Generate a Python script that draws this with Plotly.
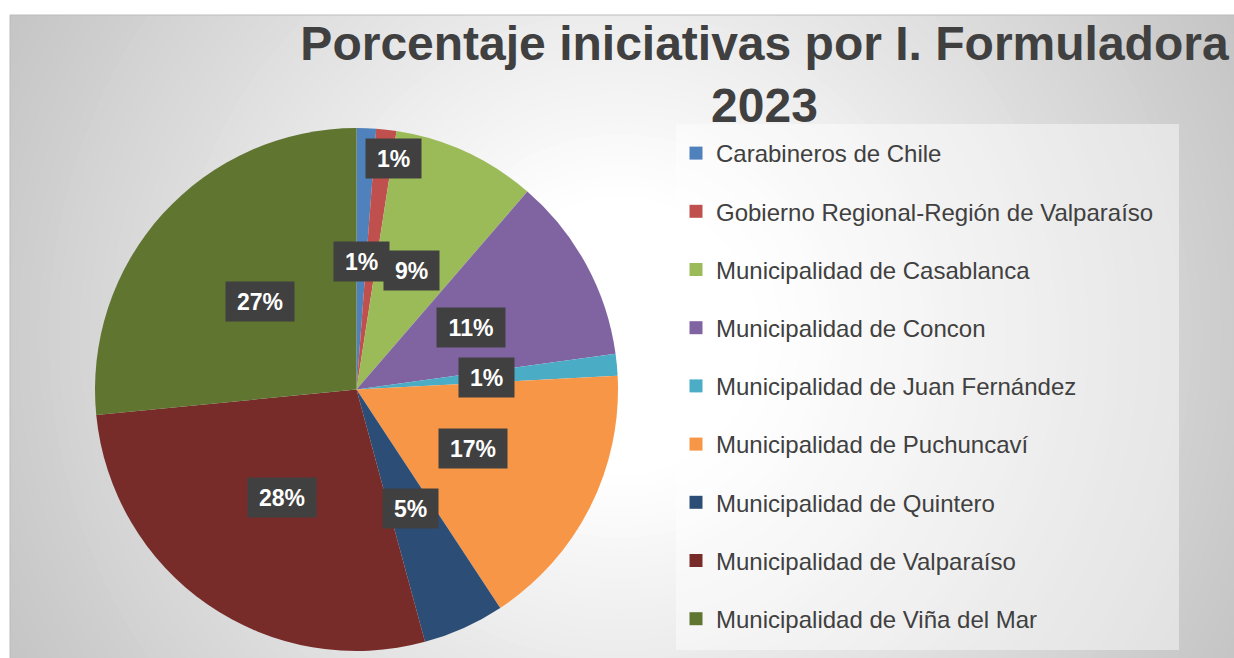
import math
import plotly.graph_objects as go

# ---------------- data ----------------
categories = [
    "Carabineros de Chile",
    "Gobierno Regional-Región de Valparaíso",
    "Municipalidad de Casablanca",
    "Municipalidad de Concon",
    "Municipalidad de Juan Fernández",
    "Municipalidad de Puchuncaví",
    "Municipalidad de Quintero",
    "Municipalidad de Valparaíso",
    "Municipalidad de Viña del Mar",
]
values = [1.2, 1.25, 8.9, 11.5, 1.35, 16.6, 5.05, 27.7, 26.6]
title_text = "Porcentaje iniciativas por I. Formuladora<br>2023"

# ---------------- style ----------------
colors = ["#4f81bd", "#c0504d", "#9bbb59", "#8064a2", "#4bacc6",
          "#f79646", "#2c4d75", "#772c2a", "#5f7530"]
label_radius = [0.49, 0.89, 0.5, 0.5, 0.5, 0.5, 0.5, 0.5, 0.5]
label_xshift = [0, 10, 0, 0, 0, 0, 0, 0, 0]
FONT = "Arial, Liberation Sans, sans-serif"
W, H = 1234, 658
cx, cy, R = 356.5, 389.5, 261.5  # pie geometry in px

dom_x = [(cx - R) / W, (cx + R) / W]
dom_y = [(H - (cy + R)) / H, (H - (cy - R)) / H]

fig = go.Figure()
fig.add_trace(go.Pie(
    labels=categories, values=values, sort=False, direction="clockwise",
    rotation=0, marker=dict(colors=colors, line=dict(width=0)),
    textinfo="none", hoverinfo="label+percent", showlegend=False,
    domain=dict(x=dom_x, y=dom_y),
))
# legend entries (one group per category so they can be spaced)
for c, col in zip(categories, colors):
    fig.add_trace(go.Scatter(
        x=[None], y=[None], mode="markers", name=c, legendgroup=c,
        marker=dict(symbol="square", size=13, color=col),
        showlegend=True, hoverinfo="skip",
    ))

# ---------------- background (radial gradient) ----------------
shapes = []
gx, gy, grad_r = 620, 336, 700
N = 60
for k in range(N, -1, -1):
    d = 0.2 + (1.08 - 0.2) * k / N
    f = min(max((d - 0.2) / 0.8, 0), 1)
    g = int(round(255 - 59 * f))
    r = d * grad_r
    shapes.append(dict(type="circle", xref="paper", yref="paper",
                       x0=(gx - r) / W, x1=(gx + r) / W,
                       y0=1 - (gy + r) / H, y1=1 - (gy - r) / H,
                       fillcolor=f"rgb({g},{g},{g})", line=dict(width=0),
                       layer="below"))
# white page outside chart area
shapes.append(dict(type="rect", xref="paper", yref="paper", x0=-0.1, x1=10 / W,
                   y0=-0.1, y1=1.1, fillcolor="white", line=dict(width=0), layer="below"))
shapes.append(dict(type="rect", xref="paper", yref="paper", x0=-0.1, x1=1.1,
                   y0=1 - 15 / H, y1=1.1, fillcolor="white", line=dict(width=0), layer="below"))
shapes.append(dict(type="rect", xref="paper", yref="paper", x0=10 / W, x1=1.05,
                   y0=-0.05, y1=1 - 15 / H, fillcolor="rgba(0,0,0,0)",
                   line=dict(width=1, color="#bcbcbc"), layer="below"))
# legend box
shapes.append(dict(type="rect", xref="paper", yref="paper",
                   x0=676 / W, x1=1179 / W, y0=1 - 650 / H, y1=1 - 124 / H,
                   fillcolor="rgba(255,255,255,0.45)", line=dict(width=0), layer="below"))

# ---------------- data labels ----------------
annotations = []
total = sum(values)
cum = 0.0
for i, v in enumerate(values):
    mid = math.radians((cum + v / 2) / total * 360)
    cum += v
    xp = cx + label_radius[i] * R * math.sin(mid)
    yp = cy - label_radius[i] * R * math.cos(mid)
    txt = f"{round(v / total * 100)}%"
    annotations.append(dict(
        x=xp / W, y=1 - yp / H, xref="paper", yref="paper", showarrow=False,
        xanchor="center", yanchor="middle",
        text=f"<b>{txt}</b>", xshift=label_xshift[i],
        font=dict(family=FONT, size=23, color="white"),
        bgcolor="#404040", borderpad=0,
        width=55 if len(txt) == 2 else 68, height=39,
    ))

fig.update_layout(
    width=W, height=H, autosize=False,
    margin=dict(l=0, r=0, t=0, b=0),
    paper_bgcolor="white", plot_bgcolor="rgba(0,0,0,0)",
    xaxis=dict(visible=False), yaxis=dict(visible=False),
    title=dict(text=title_text, x=764.5 / W, xanchor="center", xref="paper",
               y=1 - 60 / H, yanchor="top", yref="container",
               font=dict(family=FONT, size=48, color="#404040", weight="bold")),
    showlegend=True,
    legend=dict(x=676 / W, y=1 - 131 / H, xanchor="left", yanchor="top",
                bgcolor="rgba(0,0,0,0)", tracegroupgap=24, itemwidth=30,
                font=dict(family=FONT, size=24, color="#404040")),
    shapes=shapes, annotations=annotations,
)

fig.write_html(
    "out.html",
    config={"displayModeBar": False},
    post_script="document.body.style.margin='0';document.body.style.overflow='hidden';",
)
